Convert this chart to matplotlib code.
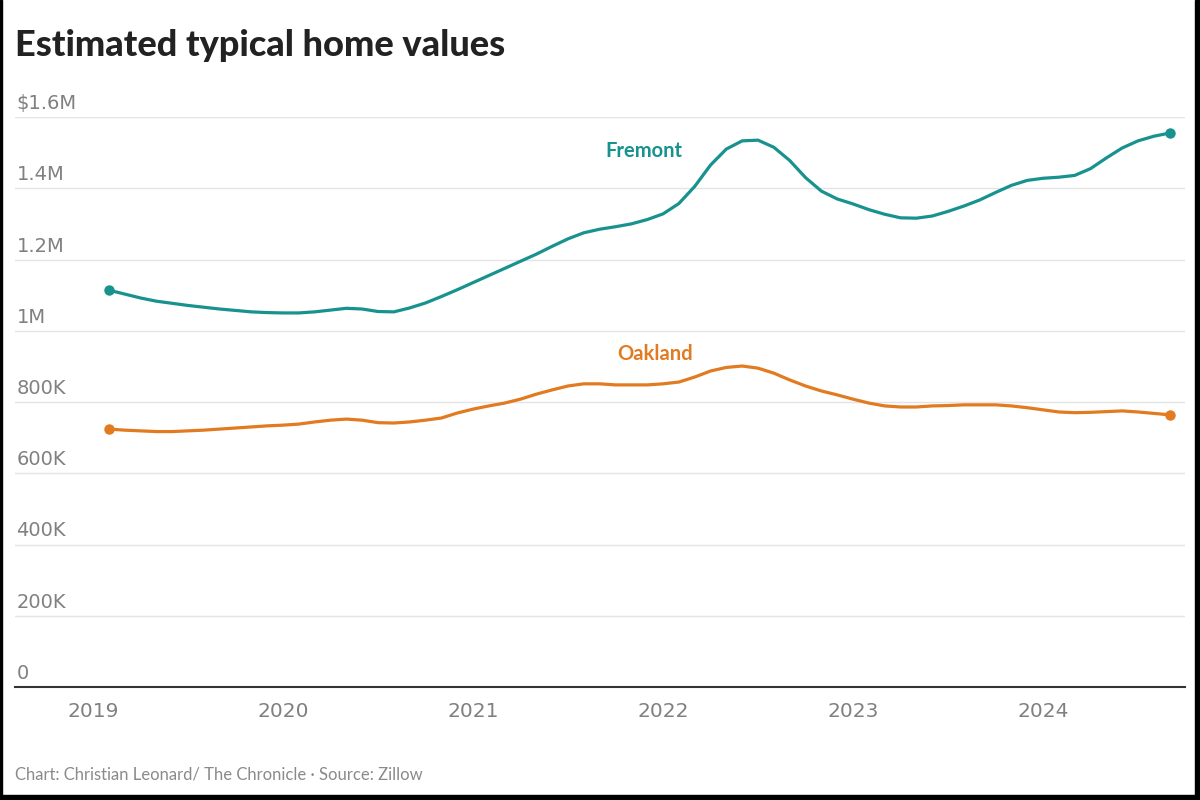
import numpy as np
import pandas as pd
import matplotlib
matplotlib.use("Agg")
import matplotlib.pyplot as plt
import matplotlib.transforms as mtransforms
from matplotlib.patches import Rectangle

# monthly Zillow values, Jan 2019 - Aug 2024 (in $M)
months = pd.date_range("2019-01-31", periods=68, freq="ME")
fremont = [1.114, 1.103, 1.092, 1.083, 1.077, 1.071, 1.066, 1.061, 1.057, 1.053, 1.051, 1.050,
           1.050, 1.053, 1.058, 1.063, 1.061, 1.054, 1.053, 1.064, 1.078, 1.096, 1.115, 1.135,
           1.155, 1.175, 1.195, 1.215, 1.237, 1.258, 1.275, 1.285, 1.292, 1.300, 1.312, 1.328,
           1.357, 1.405, 1.465, 1.510, 1.533, 1.535, 1.515, 1.478, 1.430, 1.392, 1.370, 1.356,
           1.340, 1.327, 1.317, 1.316, 1.322, 1.335, 1.350, 1.367, 1.388, 1.408, 1.422, 1.428,
           1.431, 1.436, 1.455, 1.485, 1.513, 1.533, 1.546, 1.555]
oakland = [0.724, 0.721, 0.719, 0.717, 0.717, 0.719, 0.721, 0.724, 0.727, 0.730, 0.733, 0.735,
           0.738, 0.744, 0.749, 0.752, 0.749, 0.742, 0.741, 0.744, 0.749, 0.755, 0.769, 0.780,
           0.789, 0.797, 0.808, 0.822, 0.834, 0.845, 0.851, 0.851, 0.848, 0.848, 0.848, 0.851,
           0.856, 0.870, 0.887, 0.897, 0.901, 0.895, 0.881, 0.862, 0.845, 0.831, 0.820, 0.808,
           0.797, 0.789, 0.786, 0.786, 0.789, 0.790, 0.792, 0.792, 0.792, 0.789, 0.784, 0.778,
           0.772, 0.770, 0.771, 0.773, 0.775, 0.772, 0.768, 0.764]

y_ticks = [0, 0.2, 0.4, 0.6, 0.8, 1.0, 1.2, 1.4, 1.6]
y_labels = ["0", "200K", "400K", "600K", "800K", "1M", "1.2M", "1.4M", "$1.6M"]
years = [2019, 2020, 2021, 2022, 2023, 2024]

teal = "#17928e"
orange = "#e27a20"
grey = "#808080"

# decimal year at end of month
x = np.array([d.year + d.month / 12 for d in months])

fig = plt.figure(figsize=(12, 8), dpi=100)
ax = fig.add_axes([15 / 1200, 1 - 687 / 800, 1170 / 1200, 570 / 800])

ax.plot(x, fremont, color=teal, lw=2.3, solid_capstyle="round", solid_joinstyle="round", zorder=3)
ax.plot(x, oakland, color=orange, lw=2.3, solid_capstyle="round", solid_joinstyle="round", zorder=3)
for s, c in [(fremont, teal), (oakland, orange)]:
    ax.plot([x[0], x[-1]], [s[0], s[-1]], "o", color=c, ms=6.5, zorder=4, clip_on=False)

ax.set_ylim(0, 1.6)
ax.set_xlim(2019 - 78 / 190, 2019 + 1092 / 190)

ax.set_yticks(y_ticks)
ax.set_yticklabels(y_labels)
ax.set_xticks(years)
ax.set_xticklabels([str(y) for y in years])
ax.grid(axis="y", color="#e4e4e4", lw=1)
ax.set_axisbelow(True)
for sp in ["top", "right", "left"]:
    ax.spines[sp].set_visible(False)
ax.spines["bottom"].set_color("#333333")
ax.spines["bottom"].set_linewidth(1.5)
ax.tick_params(axis="y", length=0, direction="in", pad=-1, labelsize=14, labelcolor=grey)
ax.tick_params(axis="x", length=0, pad=11, labelsize=14.5, labelcolor=grey)
off = mtransforms.ScaledTranslation(0, 4 / 100, fig.dpi_scale_trans)
for lab in ax.get_yticklabels():
    lab.set_horizontalalignment("left")
    lab.set_verticalalignment("bottom")
    lab.set_transform(lab.get_transform() + off)

ax.text(2019 + 551 / 190, 1.505, "Fremont", color=teal, fontsize=14.5, fontweight="bold",
        ha="center", va="center", family="Lato")
ax.text(2019 + 562 / 190, 0.935, "Oakland", color=orange, fontsize=14.5, fontweight="bold",
        ha="center", va="center", family="Lato")

fig.text(15 / 1200, 1 - 45 / 800, "Estimated typical home values", fontsize=26, fontweight=900,
         color="#222222", va="center", ha="left", family="Lato")
fig.text(15 / 1200, 1 - 774 / 800, "Chart: Christian Leonard/ The Chronicle \u00b7 Source: Zillow",
         fontsize=12, color="#8a8a8a", va="center", ha="left", family="Lato")

# dark screenshot edges
fig.patches.append(Rectangle((1195 / 1200, 0), 5 / 1200, 1, transform=fig.transFigure, color="black"))
fig.patches.append(Rectangle((0, 0), 1, 5 / 800, transform=fig.transFigure, color="black"))
fig.patches.append(Rectangle((0, 0), 2 / 1200, 1, transform=fig.transFigure, color="black"))

fig.savefig("out.png", dpi=100)
